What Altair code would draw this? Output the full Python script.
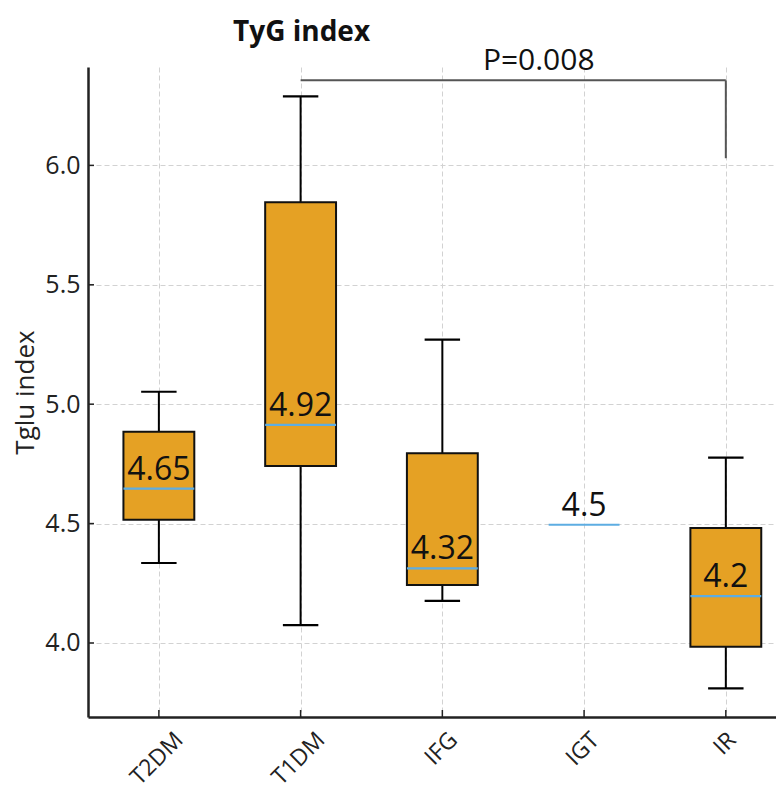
import altair as alt
import pandas as pd

# ---- data ----
groups = ["T2DM", "T1DM", "IFG", "IGT", "IR"]
whisker_low = [4.335, 4.075, 4.176, 4.495, 3.81]
q1 = [4.516, 4.741, 4.243, 4.495, 3.984]
median = [4.646, 4.913, 4.312, 4.495, 4.196]
q3 = [4.885, 5.846, 4.795, 4.495, 4.481]
whisker_high = [5.052, 6.289, 5.27, 4.495, 4.776]
median_labels = ["4.65", "4.92", "4.32", "4.5", "4.2"]

y_ticks = [4.0, 4.5, 5.0, 5.5, 6.0]

bracket_groups = ["T1DM", "IR"]
bracket_y = [6.356]
bracket_drop_y = [6.03]
p_label = ["P=0.008"]
p_label_x = [2.68]
p_label_y = [6.40]

# ---- tables ----
df = pd.DataFrame({
    "group": groups,
    "idx": list(range(len(groups))),
    "lo": whisker_low, "q1": q1, "med": median, "q3": q3, "hi": whisker_high,
    "label": median_labels,
})
i_from = groups.index(bracket_groups[0])
i_to = groups.index(bracket_groups[1])
br = pd.DataFrame({"x1": [i_from], "x2": [i_to], "y": bracket_y, "y2": bracket_drop_y})
pdf = pd.DataFrame({"x": p_label_x, "y": p_label_y, "t": p_label})
tdf = pd.DataFrame({"v": y_ticks})

W, H = 688, 650
FONT = "Open Sans"
BOX = "#E5A124"
MED = "#5DADE2"

xs = alt.Scale(domain=[-0.5, 4.354], nice=False, zero=False)
ys = alt.Scale(domain=[3.69, 6.412], nice=False, zero=False)

label_expr = "[" + ",".join("'%s'" % g for g in groups) + "][datum.value]"
# rotated labels are centred under their tick (shift depends on label length)
short_idx = [i for i, g in enumerate(groups) if len(g) <= 2]
mid_idx = [i for i, g in enumerate(groups) if len(g) == 3]
xaxis = alt.Axis(
    values=list(range(len(groups))), labelExpr=label_expr, title=None,
    labelAngle=-45, labelAlign="right", labelBaseline="middle",
    labelPadding=19, labelFontSize=23,
    labelOffset={"condition": [
        {"test": "indexof(%s, datum.value) >= 0" % short_idx, "value": 6},
        {"test": "indexof(%s, datum.value) >= 0" % mid_idx, "value": 11}],
        "value": 20},
    labelOverlap=False, labelFlush=False, labelBound=False,
)
yaxis = alt.Axis(values=y_ticks, format=".1f", title="Tglu index",
                 labelPadding=8, labelFontSize=25, titleFontSize=26,
                 titleFontWeight="normal", titlePadding=6)


def X(f, **kw):
    return alt.X(f, type="quantitative", scale=xs, axis=xaxis, **kw)


def Y(f, **kw):
    return alt.Y(f, type="quantitative", scale=ys, axis=yaxis, **kw)


base = alt.Chart(df).transform_calculate(
    bl="datum.idx - 0.25", br="datum.idx + 0.25",
    cl="datum.idx - 0.125", cr="datum.idx + 0.125",
)
boxed = base.transform_filter("datum.q3 > datum.q1")

w_lo = boxed.mark_rule(color="black", strokeWidth=2).encode(
    x=X("idx"), y=Y("lo"), y2="q1")
w_hi = boxed.mark_rule(color="black", strokeWidth=2).encode(
    x=X("idx"), y=Y("q3"), y2="hi")
c_lo = boxed.mark_rule(color="black", strokeWidth=2.2).encode(
    x=X("cl"), x2="cr", y=Y("lo"))
c_hi = boxed.mark_rule(color="black", strokeWidth=2.2).encode(
    x=X("cl"), x2="cr", y=Y("hi"))
boxes = boxed.mark_rect(fill=BOX, stroke="#111111", strokeWidth=2).encode(
    x=X("bl"), x2="br", y=Y("q1"), y2="q3")
meds = base.mark_rule(color=MED, strokeWidth=2.2).encode(
    x=X("bl"), x2="br", y=Y("med"))
labels = base.mark_text(font=FONT, fontSize=32, color="#111111",
                        baseline="alphabetic", dy=-9).encode(
    x=X("idx"), y=Y("med"), text="label:N")

b_h = alt.Chart(br).mark_rule(color="#555555", strokeWidth=2).encode(
    x=X("x1"), x2="x2", y=Y("y"))
b_v = alt.Chart(br).mark_rule(color="#555555", strokeWidth=2).encode(
    x=X("x2"), y=Y("y"), y2="y2")
p_txt = alt.Chart(pdf).mark_text(font=FONT, fontSize=30, color="#111111",
                                 baseline="alphabetic").encode(
    x=X("x"), y=Y("y"), text="t:N")

yt = alt.Chart(tdf).mark_rule(color="#222222", strokeWidth=1.5).encode(
    y=Y("v"), x=alt.value(0), x2=alt.value(6))
xt = base.mark_rule(color="#222222", strokeWidth=1.5).encode(
    x=X("idx"), y=alt.value(H), y2=alt.value(H - 7))

chart = alt.layer(
    w_lo, w_hi, c_lo, c_hi, boxes, meds, labels, b_h, b_v, p_txt, yt, xt
).properties(
    width=W, height=H,
    autosize=alt.AutoSizeParams(type="none"),
    padding={"left": 80, "top": 59, "right": 0, "bottom": 72},
    title=alt.TitleParams("TyG index", anchor="start", frame="group", dx=145,
                          dy=45, font=FONT, fontSize=28, fontWeight="bold",
                          color="#111111", baseline="alphabetic", offset=22),
).configure(
    background="white",
).configure_view(
    stroke=None,
).configure_axis(
    labelFont=FONT, titleFont=FONT, labelColor="#222222", titleColor="#222222",
    domainColor="#222222", domainWidth=2.5, ticks=False,
    gridColor="#d2d2d2", gridDash=[5, 3], gridWidth=1,
)

chart.save("out.html", embed_options={"renderer": "svg", "actions": False})
